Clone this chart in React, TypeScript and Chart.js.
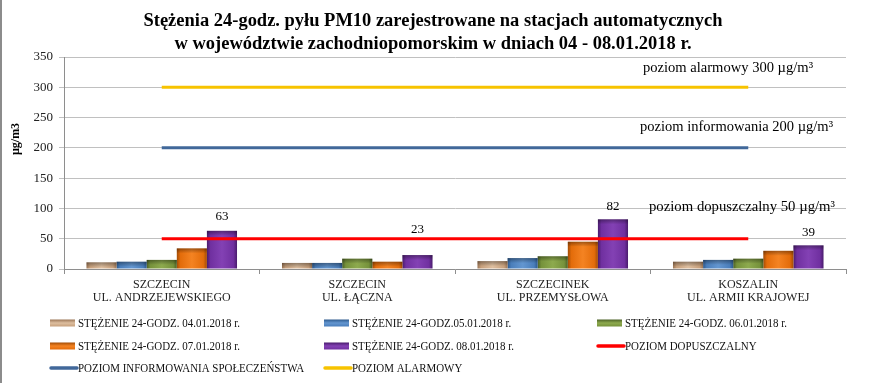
import React, { useEffect, useRef } from "react";
import { Chart, registerables } from "chart.js";

Chart.register(...registerables);

const categories: string[][] = [
  ["SZCZECIN", "UL. ANDRZEJEWSKIEGO"],
  ["SZCZECIN", "UL. ŁĄCZNA"],
  ["SZCZECINEK", "UL. PRZEMYSŁOWA"],
  ["KOSZALIN", "UL. ARMII KRAJOWEJ"],
];

const s0401 = [11, 10, 13, 12];
const s0501 = [12, 10, 18, 15];
const s0601 = [15, 17, 21, 17];
const s0701 = [34, 12, 45, 30];
const s0801 = [63, 23, 82, 39];
const limitLevel = [50, 50, 50, 50];
const infoLevel = [200, 200, 200, 200];
const alarmLevel = [300, 300, 300, 300];

const yTicks = [0, 50, 100, 150, 200, 250, 300, 350];

const seriesNames = [
  "STĘŻENIE 24-GODZ. 04.01.2018 r.",
  "STĘŻENIE 24-GODZ.05.01.2018 r.",
  "STĘŻENIE 24-GODZ. 06.01.2018 r.",
  "STĘŻENIE 24-GODZ. 07.01.2018 r.",
  "STĘŻENIE 24-GODZ. 08.01.2018 r.",
  "POZIOM DOPUSZCZALNY",
  "POZIOM INFORMOWANIA SPOŁECZEŃSTWA",
  "POZIOM ALARMOWY",
];

const titleLines = [
  "Stężenia 24-godz. pyłu PM10 zarejestrowane na stacjach automatycznych",
  "w województwie zachodniopomorskim w dniach 04 - 08.01.2018 r.",
];

const annotations = [
  { text: "poziom alarmowy 300 µg/m³", x: 643, y: 68, w: 170 },
  { text: "poziom informowania 200 µg/m³", x: 640, y: 127, w: 193 },
  { text: "poziom dopuszczalny 50 µg/m³", x: 649, y: 207, w: 186 },
];

// vertical lift of each data label above its bar (px)
const labelLift = [14, 25, 13, 13];

// bar colour shades: [dark, base, light]
const barShades = [
  ["#9C7656", "#C7A07C", "#DDBE9F"],
  ["#2D5A8E", "#4A7EBB", "#6396D0"],
  ["#4C6126", "#76923B", "#8DAA4E"],
  ["#A34C05", "#E36C0A", "#F48322"],
  ["#4A1C6D", "#7030A0", "#8341B4"],
];
const lineColors = ["#FF0000", "#41689A", "#F7C300"];

const SERIF = "'Liberation Serif', 'Times New Roman', serif";

function drawFit(ctx: CanvasRenderingContext2D, text: string, x: number, y: number, w: number, align: "left" | "center") {
  const m = ctx.measureText(text).width;
  const sx = w / m;
  ctx.save();
  ctx.translate(x, y);
  ctx.scale(sx, 1);
  ctx.textAlign = align;
  ctx.fillText(text, 0, 0);
  ctx.restore();
}

const customPlugin = {
  id: "custom",
  beforeDatasetDraw(chart: any, args: any) {
    const idx = args.index;
    if (idx > 4) return;
    const meta = chart.getDatasetMeta(idx);
    const ctx: CanvasRenderingContext2D = chart.ctx;
    const [dark, base, light] = barShades[idx];
    meta.data.forEach((el: any) => {
      const w = el.width;
      const left = el.x - w / 2;
      const top = el.y;
      const h = el.base - el.y;
      const g = ctx.createLinearGradient(left, 0, left + w, 0);
      g.addColorStop(0, dark);
      g.addColorStop(0.12, base);
      g.addColorStop(0.5, light);
      g.addColorStop(0.88, base);
      g.addColorStop(1, dark);
      ctx.save();
      ctx.fillStyle = g;
      ctx.fillRect(left, top, w, h);
      const g2 = ctx.createLinearGradient(0, top, 0, top + Math.min(5, h));
      g2.addColorStop(0, "rgba(0,0,0,0.35)");
      g2.addColorStop(1, "rgba(0,0,0,0)");
      ctx.fillStyle = g2;
      ctx.fillRect(left, top, w, Math.min(5, h));
      ctx.restore();
    });
    return false;
  },
  afterDraw(chart: any) {
    const ctx: CanvasRenderingContext2D = chart.ctx;
    ctx.save();
    // left border
    ctx.fillStyle = "#8C8C8C";
    ctx.fillRect(0, 0, 2, chart.height);

    // title
    ctx.fillStyle = "#000";
    ctx.font = `bold 18px ${SERIF}`;
    ctx.textBaseline = "middle";
    const m1 = ctx.measureText(titleLines[0]).width;
    const sx = 579 / m1;
    ctx.save();
    ctx.translate(433, 21);
    ctx.scale(sx, 1);
    ctx.textAlign = "center";
    ctx.fillText(titleLines[0], 0, 0);
    ctx.fillText(titleLines[1], 0, 23);
    ctx.restore();

    // y axis title
    ctx.save();
    ctx.font = `bold 12px ${SERIF}`;
    ctx.translate(16, 139);
    ctx.rotate(-Math.PI / 2);
    ctx.textAlign = "center";
    ctx.fillText("µg/m3", 0, 0);
    ctx.restore();

    // annotations
    ctx.font = `15px ${SERIF}`;
    ctx.fillStyle = "#000";
    annotations.forEach((a) => drawFit(ctx, a.text, a.x, a.y, a.w, "left"));

    // data labels for last bar series
    const meta = chart.getDatasetMeta(4);
    ctx.font = `13px ${SERIF}`;
    ctx.textAlign = "center";
    ctx.textBaseline = "middle";
    meta.data.forEach((el: any, i: number) => {
      ctx.fillText(String(s0801[i]), el.x, el.y - labelLift[i]);
    });

    // legend
    const cols = [50, 324, 597];
    const rows = [323, 346, 368];
    ctx.font = `12px ${SERIF}`;
    ctx.textBaseline = "middle";
    const lsx = 162 / ctx.measureText(seriesNames[0]).width;
    seriesNames.forEach((name, i) => {
      const cx = cols[i % 3];
      const cy = rows[Math.floor(i / 3)];
      if (i < 5) {
        const [dark, base, light] = barShades[i];
        const g = ctx.createLinearGradient(0, cy - 3.5, 0, cy + 3.5);
        g.addColorStop(0, dark);
        g.addColorStop(0.5, light);
        g.addColorStop(1, base);
        ctx.fillStyle = g;
        ctx.fillRect(cx, cy - 3.5, 25, 7);
      } else {
        ctx.strokeStyle = lineColors[i - 5];
        ctx.lineWidth = 3.5;
        ctx.lineCap = "round";
        ctx.beginPath();
        ctx.moveTo(cx + 1, cy);
        ctx.lineTo(cx + 27, cy);
        ctx.stroke();
      }
      ctx.fillStyle = "#111";
      ctx.save();
      ctx.translate(cx + 28, cy + 0.5);
      ctx.scale(lsx, 1);
      ctx.textAlign = "left";
      ctx.fillText(name, 0, 0);
      ctx.restore();
    });
    ctx.restore();
  },
};

export default function App() {
  const ref = useRef<HTMLCanvasElement>(null);
  useEffect(() => {
    document.body.style.margin = "0";
    const barDs = [s0401, s0501, s0601, s0701, s0801].map((d, i) => ({
      type: "bar" as const,
      label: seriesNames[i],
      data: d,
      backgroundColor: barShades[i][1],
      categoryPercentage: 0.77,
      barPercentage: 1.0,
      order: 2,
    }));
    const lineDs = [limitLevel, infoLevel, alarmLevel].map((d, i) => ({
      type: "line" as const,
      label: seriesNames[5 + i],
      data: d,
      borderColor: lineColors[i],
      borderWidth: 3,
      pointRadius: 0,
      fill: false,
      order: 1,
    }));
    const chart = new Chart(ref.current!, {
      type: "bar",
      data: { labels: categories as any, datasets: [...barDs, ...lineDs] as any },
      options: {
        animation: false,
        responsive: false,
        devicePixelRatio: 1,
        layout: { padding: { left: 0, right: 25, top: 57, bottom: 0 } },
        plugins: { legend: { display: false }, tooltip: { enabled: false }, title: { display: false } },
        scales: {
          x: {
            offset: true,
            grid: { drawOnChartArea: false, drawTicks: true, tickLength: 5, offset: true, color: "#8E8E8E" },
            border: { color: "#8E8E8E" },
            ticks: {
              color: "#222",
              font: { family: SERIF, size: 12, lineHeight: 1.1 },
              padding: 4,
              maxRotation: 0,
              autoSkip: false,
            },
            afterFit(scale: any) {
              scale.height = 114;
            },
          },
          y: {
            min: 0,
            max: 350,
            afterBuildTicks(scale: any) {
              scale.ticks = yTicks.map((v) => ({ value: v }));
            },
            grid: { color: "#C0C0C0", tickLength: 5 },
            border: { color: "#8E8E8E" },
            ticks: {
              color: "#222",
              font: { family: SERIF, size: 13 },
              padding: 6,
            },
            afterFit(scale: any) {
              scale.width = 64;
            },
          },
        },
      },
      plugins: [customPlugin],
    });
    return () => chart.destroy();
  }, []);
  return (
    <div style={{ position: "fixed", left: 0, top: 0, width: 871, height: 383, background: "#fff" }}>
      <canvas ref={ref} width={871} height={383} style={{ width: 871, height: 383 }} />
    </div>
  );
}
